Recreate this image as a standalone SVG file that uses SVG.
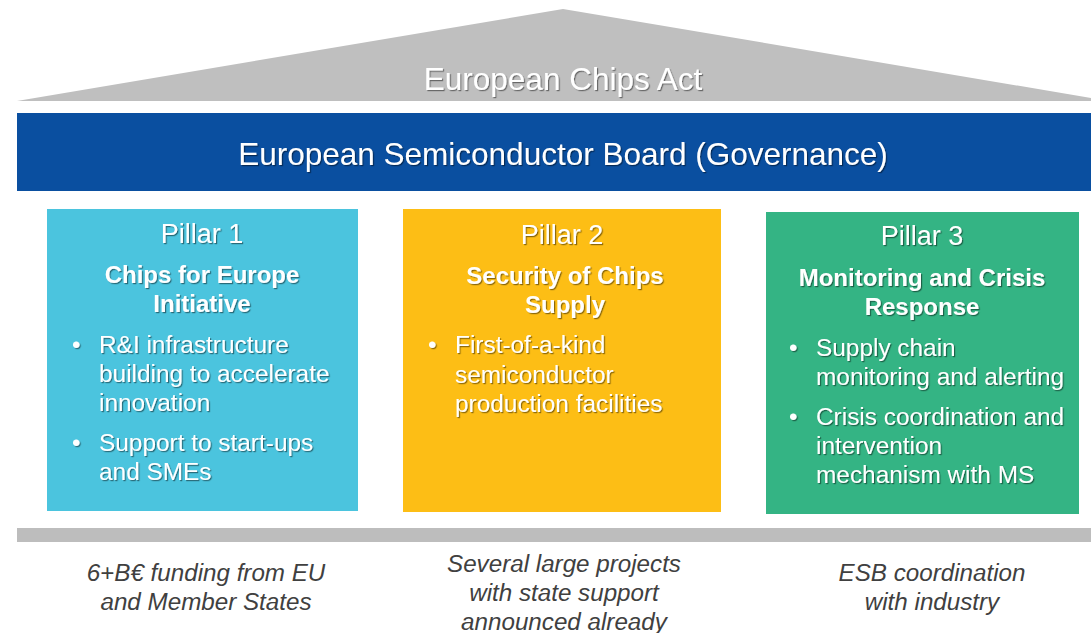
<svg xmlns="http://www.w3.org/2000/svg" width="1091" height="633" viewBox="0 0 1091 633">
  <defs>
    <filter id="shadow" x="-5%" y="-20%" width="110%" height="140%">
      <feDropShadow dx="1.2" dy="1.2" stdDeviation="0.7" flood-color="#000" flood-opacity="0.45"/>
    </filter>
  </defs>
  <style>
    text { font-family: "Liberation Sans", Arial, sans-serif; }
    .light { fill: #ffffff; filter: url(#shadow); }
    .head { font-size: 31.5px; text-anchor: middle; }
    .ptitle { font-size: 27px; text-anchor: middle; }
    .sub { font-size: 24px; font-weight: bold; text-anchor: middle; }
    .item { font-size: 24.4px; }
    .note { font-size: 24.2px; font-style: italic; fill: #404040; text-anchor: middle; }
  </style>

  <rect width="1091" height="633" fill="#ffffff"/>

  <!-- roof -->
  <g id="roof">
    <polygon points="17,101 563,9 1109,101" fill="#bfbfbf"/>
    <text class="light head" x="563" y="90">European Chips Act</text>
  </g>

  <!-- governance band -->
  <g id="board">
    <rect x="17" y="113" width="1080" height="78" fill="#0a4fa0"/>
    <text class="light head" x="563" y="165">European Semiconductor Board (Governance)</text>
  </g>

  <!-- pillar 1 -->
  <g id="pillar1">
    <rect x="47" y="209" width="311" height="302" fill="#4bc4de"/>
    <text class="light ptitle" x="202" y="243">Pillar 1</text>
    <text class="light sub" x="202" y="283">Chips for Europe</text>
    <text class="light sub" x="202" y="312">Initiative</text>
    <g class="light item">
      <text x="72" y="353">•</text>
      <text x="99" y="353">R&amp;I infrastructure</text>
      <text x="99" y="382">building to accelerate</text>
      <text x="99" y="411">innovation</text>
      <text x="72" y="451">•</text>
      <text x="99" y="451">Support to start-ups</text>
      <text x="99" y="480">and SMEs</text>
    </g>
  </g>

  <!-- pillar 2 -->
  <g id="pillar2">
    <rect x="403" y="209" width="318" height="303" fill="#fdbe15"/>
    <text class="light ptitle" x="562" y="244">Pillar 2</text>
    <text class="light sub" x="565" y="284">Security of Chips</text>
    <text class="light sub" x="565" y="313">Supply</text>
    <g class="light item">
      <text x="428" y="353">•</text>
      <text x="455" y="353">First-of-a-kind</text>
      <text x="455" y="383">semiconductor</text>
      <text x="455" y="412">production facilities</text>
    </g>
  </g>

  <!-- pillar 3 -->
  <g id="pillar3">
    <rect x="766" y="212" width="313" height="302" fill="#34b484"/>
    <text class="light ptitle" x="922" y="245">Pillar 3</text>
    <text class="light sub" x="922" y="286">Monitoring and Crisis</text>
    <text class="light sub" x="922" y="315">Response</text>
    <g class="light item">
      <text x="789" y="356">•</text>
      <text x="816" y="356">Supply chain</text>
      <text x="816" y="385">monitoring and alerting</text>
      <text x="789" y="425">•</text>
      <text x="816" y="425">Crisis coordination and</text>
      <text x="816" y="454">intervention</text>
      <text x="816" y="483">mechanism with MS</text>
    </g>
  </g>

  <!-- foundation -->
  <g id="base">
    <rect x="17" y="528" width="1080" height="14" fill="#bdbdbd"/>
  </g>

  <g id="notes">
    <text class="note" x="206" y="581">6+B€ funding from EU</text>
    <text class="note" x="206" y="610">and Member States</text>
    <text class="note" x="564" y="572">Several large projects</text>
    <text class="note" x="564" y="601">with state support</text>
    <text class="note" x="564" y="630">announced already</text>
    <text class="note" x="932" y="581">ESB coordination</text>
    <text class="note" x="932" y="610">with industry</text>
  </g>
</svg>
